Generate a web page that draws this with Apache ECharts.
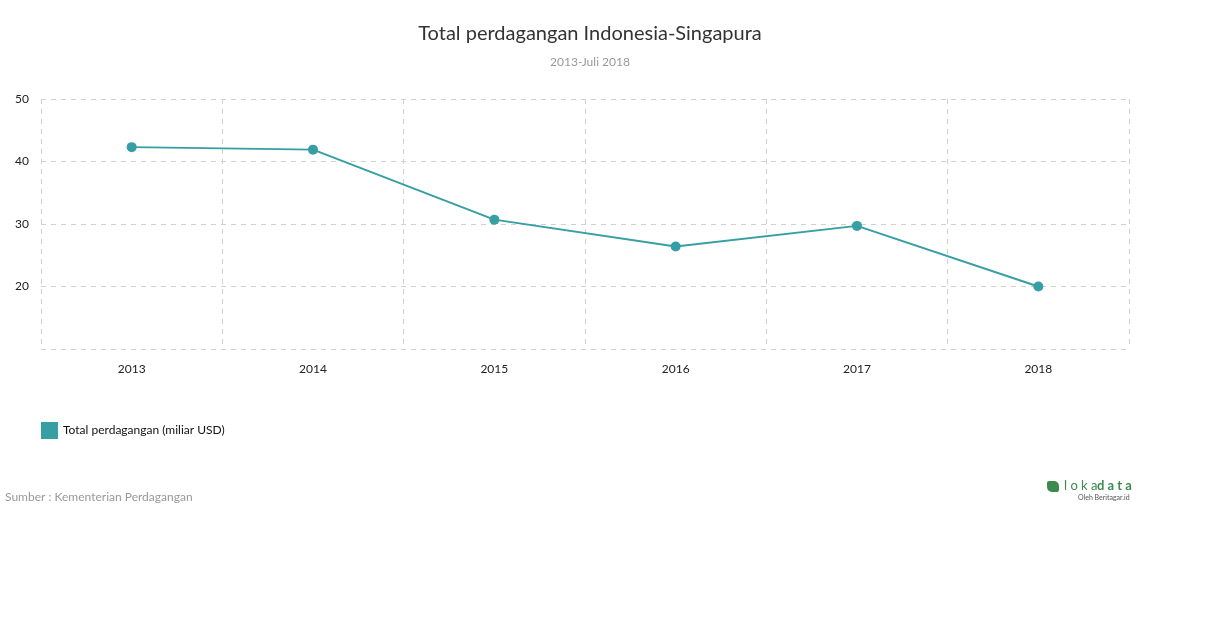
<!DOCTYPE html>
<html>
<head>
<meta charset="utf-8">
<script src="https://cdn.jsdelivr.net/npm/echarts@6/dist/echarts.min.js"></script>
<style>
  html, body { margin: 0; padding: 0; background: #fff; }
  #chart { width: 1210px; height: 628px; }
</style>
</head>
<body>
<div id="chart"></div>
<script>
// data
const years = ['2013', '2014', '2015', '2016', '2017', '2018']
const totalTrade = [42.3, 41.9, 30.7, 26.4, 29.7, 20.0]
const seriesName = 'Total perdagangan (miliar USD)'

const lineColor = '#369fa3'
const fontFamily = 'Lato, "Open Sans", sans-serif'

const chart = echarts.init(document.getElementById('chart'))

chart.setOption({
  animation: false,
  textStyle: { fontFamily: fontFamily },
  title: {
    text: 'Total perdagangan Indonesia-Singapura',
    subtext: '2013-Juli 2018',
    left: 585,
    textAlign: 'center',
    top: 19,
    itemGap: 12,
    textStyle: { fontSize: 20, fontWeight: 'normal', color: '#333', fontFamily: fontFamily },
    subtextStyle: { fontSize: 12, color: '#999', fontFamily: fontFamily },
  },
  legend: {
    left: 36,
    top: 417,
    itemWidth: 17,
    itemHeight: 17,
    icon: 'rect',
    textStyle: { fontSize: 12, color: '#111', fontFamily: fontFamily },
    data: [{ name: seriesName, itemStyle: { color: lineColor } }],
  },
  grid: {
    left: 41,
    right: 81,
    top: 99,
    height: 250,
    containLabel: false,
  },
  xAxis: {
    type: 'category',
    data: years,
    boundaryGap: true,
    axisLine: { show: false },
    axisTick: { show: false },
    axisLabel: { fontSize: 12, color: '#222', margin: 14 },
    splitLine: { show: true, lineStyle: { color: '#d0d0d0', type: [5, 5] } },
  },
  yAxis: {
    type: 'value',
    min: 10,
    max: 50,
    interval: 10,
    axisLine: { show: false },
    axisTick: { show: false },
    axisLabel: {
      fontSize: 12,
      color: '#222',
      margin: 12,
      showMinLabel: false,
    },
    splitLine: { show: true, lineStyle: { color: '#d0d0d0', type: [5, 5] } },
  },
  graphic: [
    // left and right frame of the plot
    {
      type: 'line',
      shape: { x1: 41.5, y1: 99, x2: 41.5, y2: 349 },
      style: { stroke: '#d0d0d0', lineDash: [5, 5], lineWidth: 1 },
    },
    {
      type: 'line',
      shape: { x1: 1129.5, y1: 99, x2: 1129.5, y2: 349 },
      style: { stroke: '#d0d0d0', lineDash: [5, 5], lineWidth: 1 },
    },
    {
      type: 'text',
      left: 5,
      top: 491,
      style: { text: 'Sumber : Kementerian Perdagangan', fill: '#999', fontSize: 12, fontFamily: fontFamily },
    },
    {
      type: 'rect',
      shape: { x: 1047, y: 481, width: 12, height: 11, r: [2, 5, 2, 5] },
      style: { fill: '#3b8a4e' },
    },
    {
      type: 'text',
      left: 1064,
      top: 479,
      style: { text: 'l o k a', fill: '#3b8a4e', fontSize: 13, fontFamily: fontFamily },
    },
    {
      type: 'text',
      left: 1097,
      top: 479,
      style: { text: 'd a t a', fill: '#3b8a4e', fontSize: 13, fontWeight: 'bold', fontFamily: fontFamily },
    },
    {
      type: 'text',
      left: 1078,
      top: 494,
      style: { text: 'Oleh Beritagar.id', fill: '#555', fontSize: 7, fontFamily: fontFamily },
    },
  ],
  series: [
    {
      name: seriesName,
      type: 'line',
      data: totalTrade,
      symbol: 'circle',
      symbolSize: 10,
      lineStyle: { color: lineColor, width: 2 },
      itemStyle: { color: lineColor },
    },
  ],
})
</script>
</body>
</html>
